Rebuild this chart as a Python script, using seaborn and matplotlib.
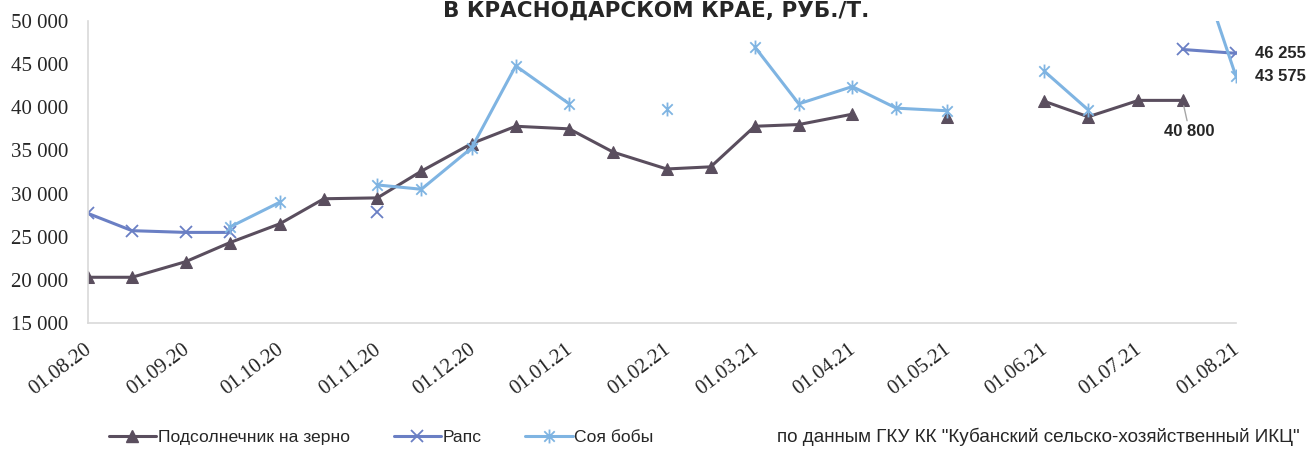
import numpy as np
import pandas as pd
import seaborn as sns
import matplotlib.pyplot as plt
import matplotlib.dates as mdates
from matplotlib.lines import Line2D
from matplotlib.path import Path
from matplotlib.ticker import FuncFormatter
from matplotlib.transforms import ScaledTranslation

# half-month observation dates, 01.08.20 .. 01.08.21
dates = pd.to_datetime([
    "2020-08-01", "2020-08-15", "2020-09-01", "2020-09-15", "2020-10-01", "2020-10-15",
    "2020-11-01", "2020-11-15", "2020-12-01", "2020-12-15", "2021-01-01", "2021-01-15",
    "2021-02-01", "2021-02-15", "2021-03-01", "2021-03-15", "2021-04-01", "2021-04-15",
    "2021-05-01", "2021-05-15", "2021-06-01", "2021-06-15", "2021-07-01", "2021-07-15",
    "2021-08-01",
])
nan = np.nan
sunflower = [20300, 20300, 22100, 24300, 26500, 29400, 29500, 32600, 35800, 37800,
             37500, 34800, 32850, 33100, 37800, 38000, 39200, nan, 38900, nan,
             40700, 38900, 40800, 40800, nan]
rapeseed = [27700, 25700, 25500, 25500, nan, nan, 27900, nan, nan, nan,
            nan, nan, nan, nan, nan, nan, nan, nan, nan, nan,
            nan, nan, nan, 46700, 46255]
soy = [nan, nan, nan, 26100, 29000, nan, 31000, 30500, 35300, 44800,
       40400, nan, 39800, nan, 47000, 40400, 42400, 39900, 39600, nan,
       44200, 39700, nan, 62000, 43575]

labels = ["Подсолнечник на зерно", "Рапс", "Соя бобы"]
title = "В КРАСНОДАРСКОМ КРАЕ, РУБ./Т."
source = 'по данным ГКУ КК "Кубанский сельско-хозяйственный ИКЦ"'

c_sun, c_rap, c_soy = "#5A4E5E", "#6A7FC4", "#7FB4E2"

# Excel-like star marker: x plus vertical bar
M, L = Path.MOVETO, Path.LINETO
star = Path([(0, -1), (0, 1), (-0.75, -0.75), (0.75, 0.75), (-0.75, 0.75), (0.75, -0.75)],
            [M, L, M, L, M, L])

sns.set_style("white")
plt.rcParams['font.family'] = ['Liberation Serif', 'DejaVu Serif']

fig = plt.figure(figsize=(13.12, 4.5), dpi=100)
ax = fig.add_axes([88 / 1312, 1 - 323 / 450, (1236 - 88) / 1312, (323 - 21) / 450])


def segments(values):
    # give each unbroken run of values its own id so gaps stay gaps
    s = pd.Series(values, dtype=float)
    seg = s.isna().cumsum()
    df = pd.DataFrame({"date": dates, "value": s, "seg": seg})
    return df.dropna()


styles = [
    (sunflower, c_sun, dict(marker="^", markersize=9, markerfacecolor=c_sun, markeredgecolor=c_sun)),
    (rapeseed, c_rap, dict(marker="x", markersize=9, markeredgewidth=1.3, markeredgecolor=c_rap)),
    (soy, c_soy, dict(marker=star, markersize=10, markeredgewidth=1.3, markeredgecolor=c_soy)),
]
for vals, col, mk in styles:
    d = segments(vals)
    sns.lineplot(data=d, x="date", y="value", units="seg", estimator=None,
                 color=col, linewidth=2.2, ax=ax, legend=False, **mk)

ax.set_xlim(pd.Timestamp("2020-08-01"), pd.Timestamp("2021-08-01"))
ax.set_ylim(15000, 50000)
ax.set_yticks(range(15000, 50001, 5000))
ax.yaxis.set_major_formatter(FuncFormatter(lambda v, p: f"{int(v):,}".replace(",", " ")))
ax.xaxis.set_major_locator(mdates.MonthLocator())
ax.xaxis.set_major_formatter(mdates.DateFormatter("%d.%m.%y"))
ax.set_xlabel("")
ax.set_ylabel("")

for sp in ["top", "right"]:
    ax.spines[sp].set_visible(False)
for sp in ["left", "bottom"]:
    ax.spines[sp].set_color("#D9D9D9")
    ax.spines[sp].set_linewidth(1.2)

ax.tick_params(axis="x", length=5, color="#D9D9D9", width=1.2, direction="out",
               labelsize=15, pad=3)
ax.tick_params(axis="y", length=0, labelsize=15, pad=14)
shift = ScaledTranslation(-0.04, -0.06, fig.dpi_scale_trans)
for lab in ax.get_xticklabels():
    lab.set_rotation(37)
    lab.set_ha("right")
    lab.set_rotation_mode("anchor")
    lab.set_transform(lab.get_transform() + shift)

sans = ['Liberation Sans', 'DejaVu Sans']

# data labels
ax.annotate("46 255", xy=(dates[-1], rapeseed[-1]), xytext=(14, 0), textcoords="offset points",
            ha="left", va="center", fontsize=12, fontweight="bold", family=sans)
ax.annotate("43 575", xy=(dates[-1], soy[-1]), xytext=(14, 0), textcoords="offset points",
            ha="left", va="center", fontsize=12, fontweight="bold", family=sans)
ax.annotate("40 800", xy=(dates[-2], sunflower[-2]), xytext=(5, -17), textcoords="offset points",
            ha="center", va="top", fontsize=12, fontweight="bold", family=sans,
            arrowprops=dict(arrowstyle="-", color="#A6A6A6", lw=1, shrinkA=0, shrinkB=4))

fig.text(0.5, 0.998, title, ha="center", va="top", fontsize=15.5,
         fontweight="bold", family=['DejaVu Sans'])

handles = [
    Line2D([], [], color=c_sun, lw=2.2, marker="^", markersize=8, markerfacecolor=c_sun, markeredgecolor=c_sun),
    Line2D([], [], color=c_rap, lw=2.2, marker="x", markersize=9, markeredgewidth=1.3, markeredgecolor=c_rap),
    Line2D([], [], color=c_soy, lw=2.2, marker=star, markersize=10, markeredgewidth=1.3, markeredgecolor=c_soy),
]
fig.legend(handles, labels, loc="center left", bbox_to_anchor=(93 / 1312, 1 - 437 / 450),
           ncol=3, frameon=False, handlelength=2.7, handletextpad=0.1, columnspacing=2.5,
           prop={"family": sans, "size": 12.6})

fig.text(777 / 1312, 1 - 437 / 450, source, ha="left", va="center", fontsize=13.6, family=sans)

fig.savefig("out.png", dpi=100)
